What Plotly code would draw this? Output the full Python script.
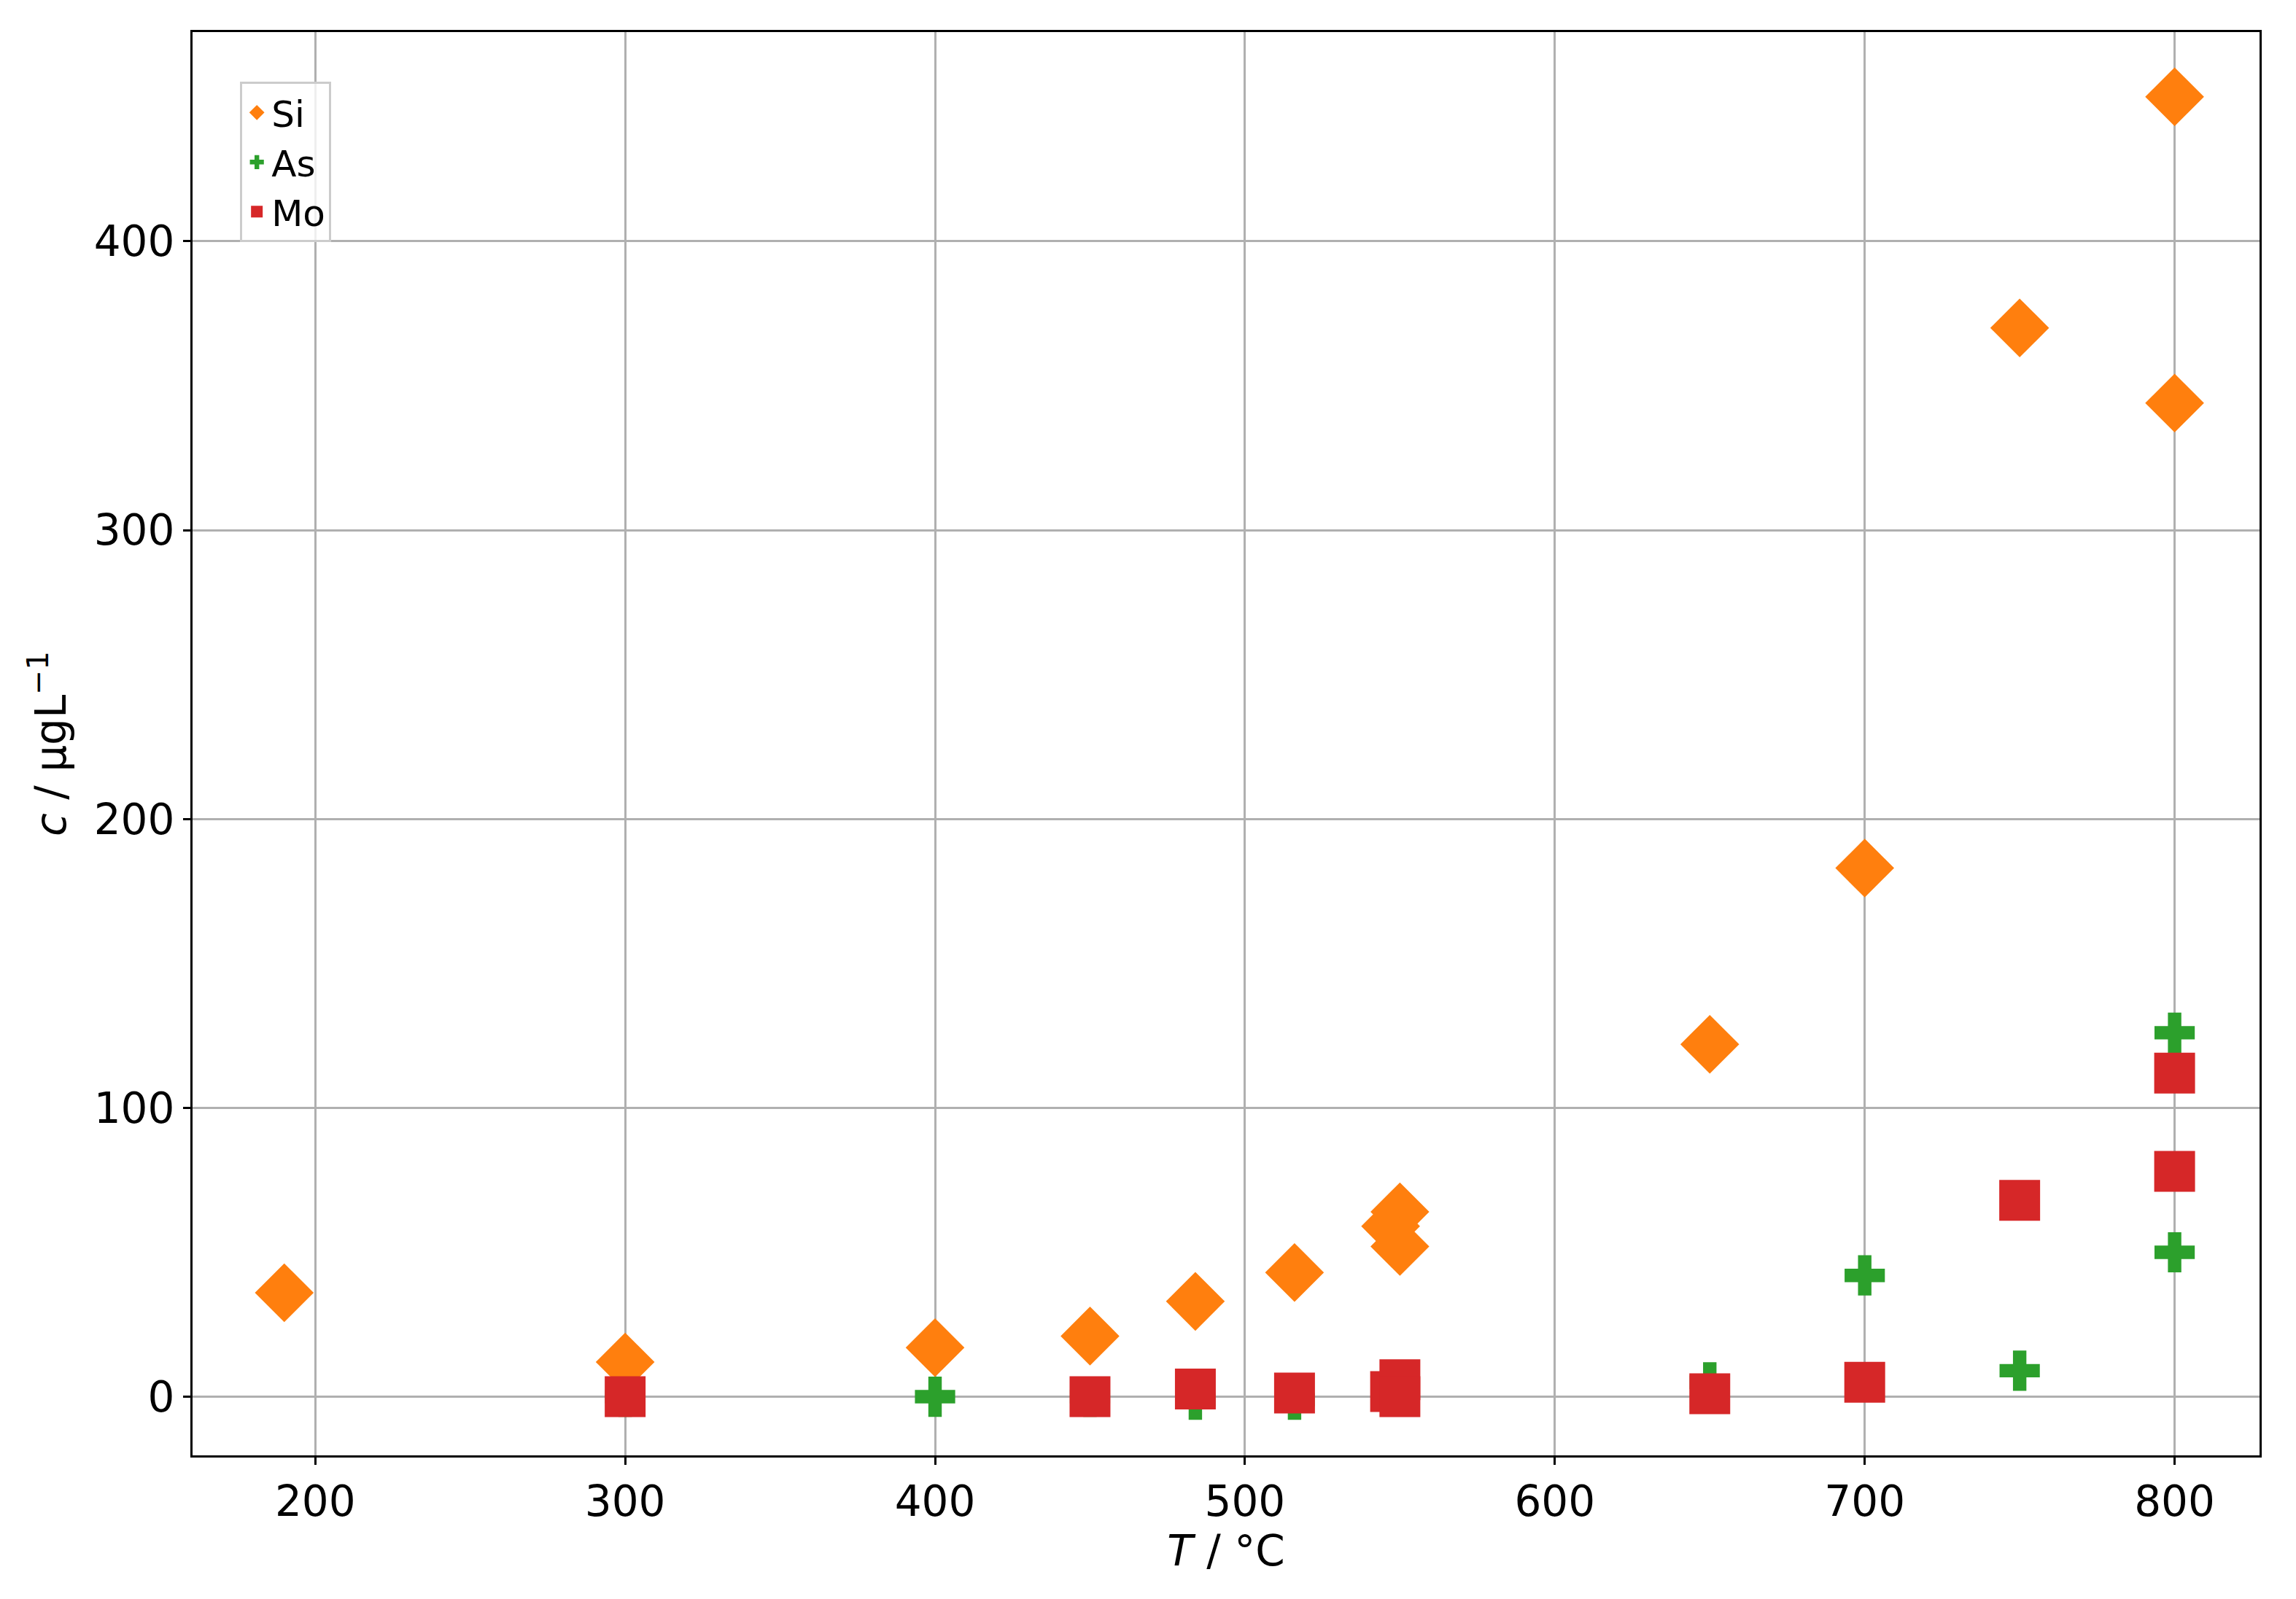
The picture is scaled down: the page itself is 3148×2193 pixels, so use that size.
import plotly.graph_objects as go

si_x = [190, 300, 400, 450, 484, 516, 547, 550, 550, 650, 700, 750, 800, 800]
si_y = [36, 12, 17, 21, 33, 43, 59, 64, 52, 122, 183, 370, 450, 344]
as_x = [300, 400, 450, 484, 516, 550, 650, 700, 750, 800, 800]
as_y = [0, 0, 0, -1, -1, 1, 5, 42, 9, 126, 50]
mo_x = [300, 450, 484, 516, 547, 550, 550, 650, 700, 750, 800, 800]
mo_y = [0, 0, 2.7, 1.3, 1.8, 5.9, 0, 1, 5, 68, 112, 78]

fig = go.Figure()
fig.add_trace(go.Scatter(x=si_x, y=si_y, mode="markers", name="Si",
                         marker=dict(symbol="diamond", size=62, color="#ff7f0e")))
fig.add_trace(go.Scatter(x=as_x, y=as_y, mode="markers", name="As",
                         marker=dict(symbol="cross", size=46, color="#2ca02c")))
fig.add_trace(go.Scatter(x=mo_x, y=mo_y, mode="markers", name="Mo",
                         marker=dict(symbol="square", size=56, color="#d62728")))

axis_common = dict(showline=True, linecolor="black", linewidth=3, mirror=True,
                   showgrid=True, gridcolor="#b0b0b0", gridwidth=3,
                   ticks="outside", ticklen=10, tickwidth=3, tickcolor="black",
                   zeroline=False, tickfont=dict(size=58, color="black"))
fig.update_xaxes(range=[160.4, 827.4], tickvals=[200, 300, 400, 500, 600, 700, 800],
                 title=dict(text="<i>T</i> / °C", font=dict(size=58, color="black"), standoff=10),
                 **axis_common)
fig.update_yaxes(range=[-20.3, 472.4], tickvals=[0, 100, 200, 300, 400],
                 title=dict(text="<i>c</i> / μgL<sup>−1</sup>", font=dict(size=58, color="black"), standoff=20),
                 **axis_common)
fig.update_layout(
    width=3148, height=2193,
    margin=dict(l=256, r=58, t=36, b=205),
    plot_bgcolor="white", paper_bgcolor="white",
    font=dict(family="DejaVu Sans", color="black"),
    legend=dict(x=0.023, y=0.965, xanchor="left", yanchor="top",
                bordercolor="#cccccc", borderwidth=3, bgcolor="rgba(255,255,255,0.8)",
                font=dict(size=50), itemsizing="trace"),
)
fig.write_html("out.html")
